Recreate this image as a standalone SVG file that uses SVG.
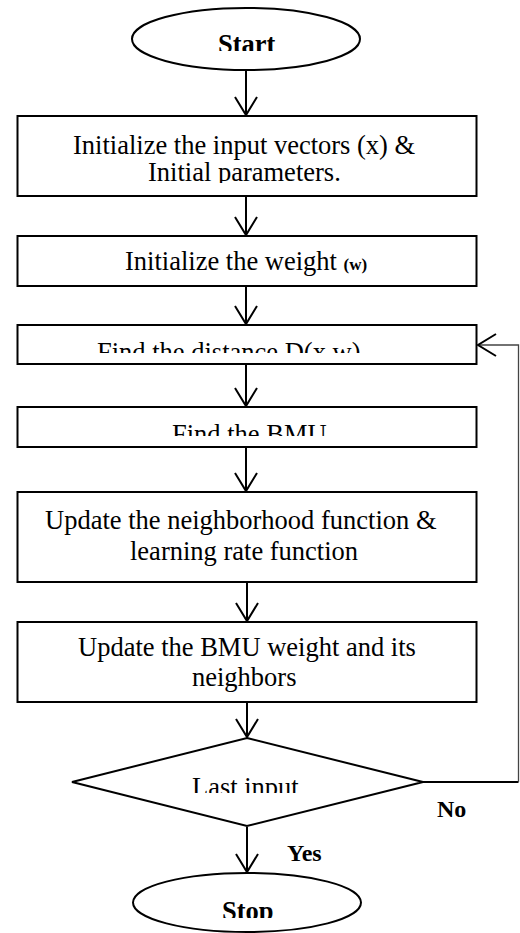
<svg xmlns="http://www.w3.org/2000/svg" width="520" height="933" viewBox="0 0 520 933">
<style>
.shape{fill:#fff;stroke:#000;stroke-width:2}
.t{font-family:"Liberation Serif","Times New Roman",serif;font-size:26.5px;fill:#000}
.b{font-weight:bold}
.c{fill:none;stroke:#000;stroke-width:2}
.fb{fill:none;stroke:#444;stroke-width:1.3}
</style>
<defs>
<marker id="ah" viewBox="-20 -12 22 24" markerWidth="22" markerHeight="24" refX="0" refY="0" markerUnits="userSpaceOnUse" orient="auto">
<path d="M-18,-11 L0,0 L-18,11" fill="none" stroke="#000" stroke-width="2"/>
</marker>
<clipPath id="cStart"><rect x="0" y="0" width="520" height="51"/></clipPath>
<clipPath id="c1"><rect x="0" y="100" width="520" height="83"/></clipPath>
<clipPath id="c3"><rect x="0" y="320" width="520" height="33"/></clipPath>
<clipPath id="c4"><rect x="0" y="400" width="520" height="36"/></clipPath>
<clipPath id="cD"><rect x="0" y="740" width="520" height="53"/></clipPath>
<clipPath id="cStop"><rect x="0" y="880" width="520" height="38"/></clipPath>
</defs>
<rect width="520" height="933" fill="#fff"/>
<g id="connectors">
<line class="c" x1="246" y1="70" x2="246" y2="115" marker-end="url(#ah)"/>
<line class="c" x1="246" y1="196" x2="246" y2="235" marker-end="url(#ah)"/>
<line class="c" x1="246" y1="286" x2="246" y2="324" marker-end="url(#ah)"/>
<line class="c" x1="246" y1="364" x2="246" y2="406" marker-end="url(#ah)"/>
<line class="c" x1="246" y1="447" x2="246" y2="491" marker-end="url(#ah)"/>
<line class="c" x1="247" y1="583" x2="247" y2="621" marker-end="url(#ah)"/>
<line class="c" x1="247" y1="702" x2="247" y2="737" marker-end="url(#ah)"/>
<line class="c" x1="247" y1="827" x2="247" y2="872" marker-end="url(#ah)"/>
<polyline class="c" points="423,782 518.5,782"/>
<polyline class="fb" points="518.5,782 518.5,345 479,345"/>
<line x1="497" y1="345" x2="478" y2="345" stroke="none" marker-end="url(#ah)"/>
</g>
<g id="start">
<ellipse class="shape" cx="246" cy="39" rx="114" ry="31"/>
<text class="t b" x="218" y="52.5" clip-path="url(#cStart)">Start</text>
</g>
<g id="init-input">
<rect class="shape" x="17.5" y="116" width="459" height="80"/>
<g clip-path="url(#c1)">
<text class="t" x="73" y="154">Initialize the input vectors (x) &amp;</text>
<text class="t" x="148" y="181">Initial parameters.</text>
</g>
</g>
<g id="init-weight">
<rect class="shape" x="17.5" y="236" width="459" height="50"/>
<text class="t" x="125" y="270">Initialize the weight <tspan class="b" font-size="17">(w)</tspan></text>
</g>
<g id="distance">
<rect class="shape" x="17.5" y="325" width="459" height="39"/>
<text class="t" x="97" y="360.5" clip-path="url(#c3)">Find the distance D(x,w)</text>
</g>
<g id="bmu">
<rect class="shape" x="17.5" y="407" width="459" height="40"/>
<text class="t" x="172" y="443" clip-path="url(#c4)">Find the BMU</text>
</g>
<g id="update-neigh">
<rect class="shape" x="17.5" y="492" width="459" height="90"/>
<text class="t" x="45" y="529">Update the neighborhood function &amp;</text>
<text class="t" x="130" y="560">learning rate function</text>
</g>
<g id="update-bmu">
<rect class="shape" x="17.5" y="622" width="459" height="80"/>
<text class="t" x="78" y="656">Update the BMU weight and its</text>
<text class="t" x="192" y="686">neighbors</text>
</g>
<g id="last-input">
<polygon class="shape" points="247,738 423,782 247,826 72,782"/>
<text class="t" x="192" y="795.5" clip-path="url(#cD)">Last input</text>
</g>
<g id="labels">
<text class="t b" x="437" y="817" style="font-size:24px">No</text>
<text class="t b" x="287" y="861" style="font-size:24px">Yes</text>
</g>
<g id="stop">
<ellipse class="shape" cx="247" cy="902.5" rx="114" ry="29.5"/>
<text class="t b" x="222" y="920" clip-path="url(#cStop)">Stop</text>
</g>
</svg>
